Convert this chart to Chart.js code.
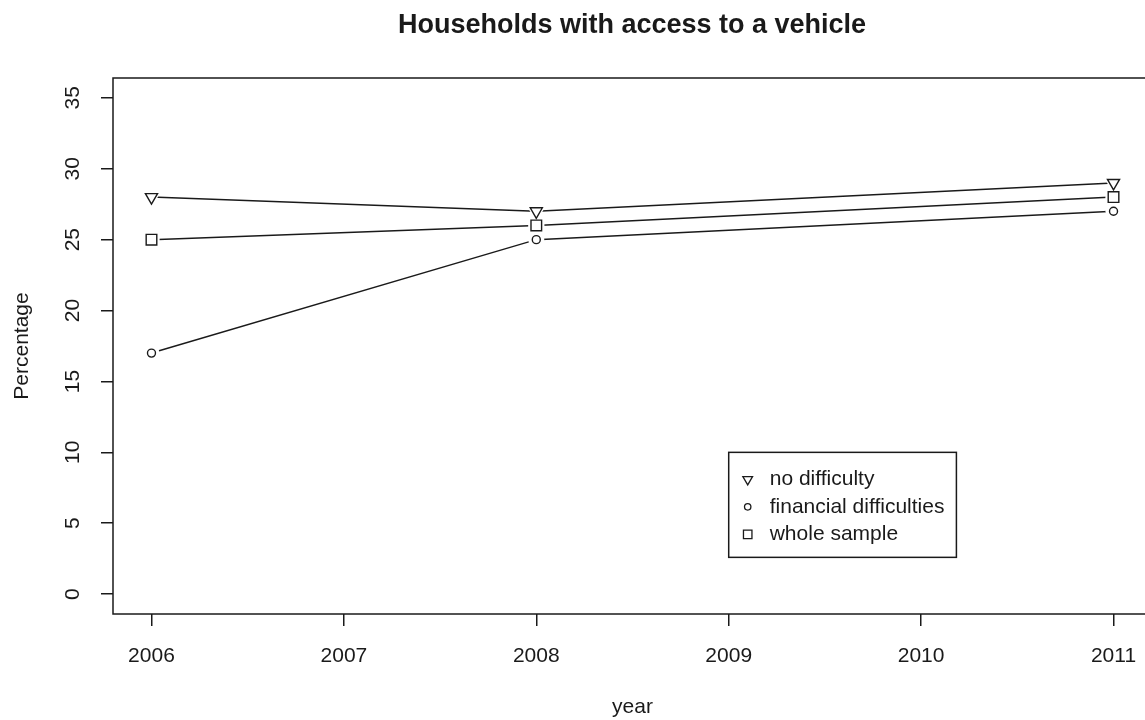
<!DOCTYPE html>
<html lang="en">
<head>
    <meta charset="UTF-8">
    <title>Households with access to a vehicle</title>
    <script src="https://cdn.jsdelivr.net/npm/chart.js"></script>
    <style>
        html, body { margin: 0; padding: 0; background: #fff; overflow: hidden; }
        #wrap { width: 1264px; height: 720px; }
    </style>
</head>
<body>
<div id="wrap"><canvas id="vehicleChart" width="1264" height="720"></canvas></div>

<script>
    // values
    const years = [2006, 2008, 2011];
    const noDifficulty = [28, 27, 29];
    const financialDifficulties = [17, 25, 27];
    const wholeSample = [25, 26, 28];
    const seriesLabels = ['no difficulty', 'financial difficulties', 'whole sample'];

    const xTicks = [2006, 2007, 2008, 2009, 2010, 2011];
    const yTicks = [0, 5, 10, 15, 20, 25, 30, 35];

    // legend sits at (2009, 10) in data units, like legend(x, y) in R
    const legendAt = [2009, 10];

    const ink = '#1a1a1a';
    const fontFamily = '"Liberation Sans", Arial, sans-serif';

    const markers = [
        { pointStyle: 'triangle', radius: 7, rotation: 180 },
        { pointStyle: 'circle', radius: 4, rotation: 0 },
        { pointStyle: 'rect', radius: 7.5, rotation: 0 }
    ];

    const seriesValues = [noDifficulty, financialDifficulties, wholeSample];

    function toPoints(values) {
        return years.map((yr, i) => ({ x: yr, y: values[i] }));
    }

    // every series: a plain line, a white halo (the gap of type="b"), and the marker
    const datasets = [];
    seriesValues.forEach((values, i) => {
        const m = markers[i];
        datasets.push({
            label: seriesLabels[i] + ' line',
            data: toPoints(values),
            borderColor: ink,
            borderWidth: 1.5,
            pointRadius: 0,
            fill: false,
            order: 3
        });
        datasets.push({
            label: seriesLabels[i] + ' gap',
            data: toPoints(values),
            showLine: false,
            pointStyle: m.pointStyle,
            pointRotation: m.rotation,
            pointRadius: m.radius + 4,
            pointBackgroundColor: '#fff',
            pointBorderWidth: 0,
            pointBorderColor: '#fff',
            order: 2
        });
        datasets.push({
            label: seriesLabels[i],
            data: toPoints(values),
            showLine: false,
            pointStyle: m.pointStyle,
            pointRotation: m.rotation,
            pointRadius: m.radius,
            pointBackgroundColor: '#fff',
            pointBorderColor: ink,
            pointBorderWidth: 1.4,
            order: 1
        });
    });

    // box round the plot, rotated y tick labels and the boxed legend
    const rPlotParts = {
        id: 'rPlotParts',
        afterDraw(chart) {
            const { ctx, chartArea, scales } = chart;
            ctx.save();

            ctx.strokeStyle = ink;
            ctx.lineWidth = 1.5;
            ctx.strokeRect(chartArea.left, chartArea.top,
                chartArea.right - chartArea.left, chartArea.bottom - chartArea.top);

            ctx.fillStyle = ink;
            ctx.font = '21px ' + fontFamily;
            ctx.textAlign = 'center';
            ctx.textBaseline = 'middle';
            scales.y.ticks.forEach(t => {
                const py = scales.y.getPixelForValue(t.value);
                ctx.save();
                ctx.translate(73, py);
                ctx.rotate(-Math.PI / 2);
                ctx.fillText(String(t.value), 0, 0);
                ctx.restore();
            });

            // legend
            const left = scales.x.getPixelForValue(legendAt[0]);
            const top = scales.y.getPixelForValue(legendAt[1]);
            let widest = 0;
            seriesLabels.forEach(s => { widest = Math.max(widest, ctx.measureText(s).width); });
            const rowGap = 27.5;
            const w = 41 + widest + 12;
            const h = 27 + rowGap * (seriesLabels.length - 1) + 23;
            ctx.fillStyle = '#fff';
            ctx.fillRect(left, top, w, h);
            ctx.strokeStyle = ink;
            ctx.lineWidth = 1.5;
            ctx.strokeRect(left, top, w, h);

            seriesLabels.forEach((s, i) => {
                const rowY = top + 27 + i * rowGap;
                const m = markers[i];
                ctx.fillStyle = '#fff';
                ctx.strokeStyle = ink;
                ctx.lineWidth = 1.3;
                Chart.helpers.drawPoint(ctx, {
                    pointStyle: m.pointStyle,
                    radius: m.radius * 0.8,
                    rotation: m.rotation,
                    borderWidth: 1.3
                }, left + 19, rowY);
                ctx.fillStyle = ink;
                ctx.textAlign = 'left';
                ctx.fillText(s, left + 41, rowY);
            });

            ctx.restore();
        }
    };

    const ctx = document.getElementById('vehicleChart').getContext('2d');
    new Chart(ctx, {
        type: 'line',
        data: { datasets: datasets },
        plugins: [rPlotParts],
        options: {
            responsive: false,
            animation: false,
            events: [],
            layout: { padding: 0 },
            plugins: {
                legend: { display: false },
                tooltip: { enabled: false },
                title: {
                    display: true,
                    text: 'Households with access to a vehicle',
                    color: ink,
                    font: { family: fontFamily, size: 27, weight: 'bold' },
                    padding: { top: 9.8, bottom: 35.8 }
                }
            },
            scales: {
                x: {
                    type: 'linear',
                    position: 'bottom',
                    min: 2005.8,
                    max: 2011.2,
                    afterBuildTicks: s => { s.ticks = xTicks.map(v => ({ value: v })); },
                    afterFit: s => { s.height = 106; },
                    border: { display: false },
                    grid: { drawOnChartArea: false, tickLength: 12, color: ink, lineWidth: 1.5 },
                    ticks: {
                        color: ink,
                        font: { family: fontFamily, size: 21 },
                        padding: 18,
                        maxRotation: 0,
                        autoSkip: false,
                        callback: v => String(v)
                    },
                    title: {
                        display: true,
                        text: 'year',
                        color: ink,
                        font: { family: fontFamily, size: 21 },
                        padding: { top: 0, bottom: 0 }
                    }
                },
                y: {
                    type: 'linear',
                    min: -1.4,
                    max: 36.4,
                    afterBuildTicks: s => { s.ticks = yTicks.map(v => ({ value: v })); },
                    afterFit: s => { s.width = 113; },
                    border: { display: false },
                    grid: { drawOnChartArea: false, tickLength: 12, color: ink, lineWidth: 1.5 },
                    ticks: { display: false },
                    title: {
                        display: true,
                        text: 'Percentage',
                        color: ink,
                        font: { family: fontFamily, size: 21 },
                        padding: { top: 9.5, bottom: 0 }
                    }
                },
                // empty margin on the right (beyond the window), keeps the title centred on the plot
                yRight: {
                    type: 'linear',
                    position: 'right',
                    display: true,
                    min: -1.4,
                    max: 36.4,
                    afterFit: s => { s.width = 112; },
                    border: { display: false },
                    grid: { display: false },
                    ticks: { display: false }
                }
            }
        }
    });
</script>
</body>
</html>
